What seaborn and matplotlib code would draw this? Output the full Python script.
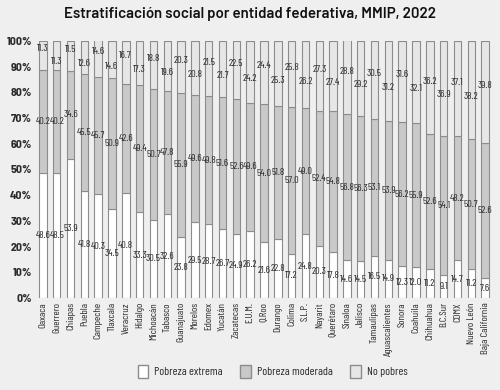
import pandas as pd
import matplotlib.pyplot as plt
import seaborn as sns
from matplotlib.patches import Patch

estados = ["Oaxaca", "Guerrero", "Chiapas", "Puebla", "Campeche", "Tlaxcala",
           "Veracruz", "Hidalgo", "Michoacán", "Tabasco", "Guanajuato", "Morelos",
           "Edomex", "Yucatán", "Zacatecas", "E.U.M.", "Q.Roo", "Durango", "Colima",
           "S.L.P.", "Nayarit", "Querétaro", "Sinaloa", "Jalisco", "Tamaulipas",
           "Aguascalientes", "Sonora", "Coahuila", "Chihuahua", "B.C.Sur", "CDMX",
           "Nuevo León", "Baja California"]
extrema = [48.6, 48.5, 53.9, 41.8, 40.3, 34.5, 40.8, 33.3, 30.5, 32.6, 23.8, 29.5,
           28.7, 26.7, 24.9, 26.2, 21.6, 22.8, 17.2, 24.8, 20.3, 17.8, 14.6, 14.5,
           16.5, 14.9, 12.3, 12.0, 11.2, 9.1, 14.7, 11.2, 7.6]
moderada = [40.2, 40.2, 34.6, 45.5, 45.7, 50.9, 42.6, 49.4, 50.7, 47.8, 55.9, 49.6,
            49.8, 51.6, 52.6, 49.6, 54.0, 51.8, 57.0, 49.0, 52.4, 54.8, 56.8, 56.3,
            53.1, 53.9, 56.2, 55.9, 52.6, 54.1, 48.2, 50.7, 52.6]
no_pobres = [11.3, 11.3, 11.5, 12.6, 14.6, 14.6, 16.7, 17.3, 18.8, 19.6, 20.3, 20.8,
             21.5, 21.7, 22.5, 24.2, 24.4, 25.3, 25.8, 26.2, 27.3, 27.4, 28.8, 29.2,
             30.5, 31.2, 31.6, 32.1, 36.2, 36.9, 37.1, 38.2, 39.8]
y_ticks = [0, 10, 20, 30, 40, 50, 60, 70, 80, 90, 100]

bg = "#efefef"
col_ext = "#ffffff"
col_mod = "#c9c9c9"
col_np = "#e6e6e6"
edge = "#8c8c8c"
txt = "#2a2a2a"

sns.set_theme(style="white", rc={"axes.facecolor": bg, "figure.facecolor": bg})
plt.rcParams['font.family'] = ['Barlow Condensed', 'DejaVu Sans']

df = pd.DataFrame({"estado": estados, "extrema": extrema,
                   "moderada": moderada, "no_pobres": no_pobres})
df["base_mod"] = df["extrema"]
df["base_np"] = df["extrema"] + df["moderada"]

fig = plt.figure(figsize=(5, 3.9), dpi=100)
ax = fig.add_axes([0.072, 0.236, 0.912, 0.659])

w = 0.54
sns.barplot(data=df, x="estado", y="extrema", color=col_ext, saturation=1,
            width=w, edgecolor=edge, linewidth=0.8, ax=ax)
sns.barplot(data=df, x="estado", y="moderada", color=col_mod, saturation=1,
            width=w, edgecolor=edge, linewidth=0.8, bottom=df["base_mod"], ax=ax)
sns.barplot(data=df, x="estado", y="no_pobres", color=col_np, saturation=1,
            width=w, edgecolor=edge, linewidth=0.8, bottom=df["base_np"], ax=ax)

# value labels in the middle of each segment, top ones zig-zag so they don't collide
for i, row in df.iterrows():
    shift = 2.5 if i % 2 == 0 else -2.5
    segs = [(row["extrema"], 0, 0), (row["moderada"], row["base_mod"], 0),
            (row["no_pobres"], row["base_np"], shift)]
    for val, base, dy in segs:
        ax.text(i, base + val / 2 + dy, f"{val:.1f}", ha="center", va="center",
                fontsize=7.5, color=txt)

ax.set_xlim(-0.5, len(estados) - 0.5)
ax.set_ylim(0, 100)
ax.set_yticks(y_ticks)
ax.set_yticklabels([f"{t}%" for t in y_ticks], fontsize=8.5, fontweight="bold",
                   color=txt, family=["Barlow Semi Condensed", "DejaVu Sans"])
ax.set_xticks(range(len(estados)))
ax.set_xticklabels(estados, rotation=90, fontsize=7.5, color=txt)
ax.tick_params(axis="both", length=0, pad=3)
ax.set_xlabel("")
ax.set_ylabel("")
sns.despine(ax=ax, left=True, bottom=True)

fig.suptitle("Estratificación social por entidad federativa, MMIP, 2022",
             x=0.5, y=0.982, fontsize=10.8, fontweight="semibold", color="#111111",
             family=["Barlow", "DejaVu Sans"])

handles = [Patch(facecolor=col_ext, edgecolor=edge, label="Pobreza extrema"),
           Patch(facecolor=col_mod, edgecolor=edge, label="Pobreza moderada"),
           Patch(facecolor=col_np, edgecolor=edge, label="No pobres")]
fig.legend(handles=handles, loc="center", bbox_to_anchor=(0.545, 0.048), ncol=3,
           frameon=False, fontsize=8.5, handlelength=0.9, handleheight=1.3,
           columnspacing=1.5, handletextpad=0.5, labelcolor=txt)

fig.savefig("out.png", dpi=100, facecolor=bg)
